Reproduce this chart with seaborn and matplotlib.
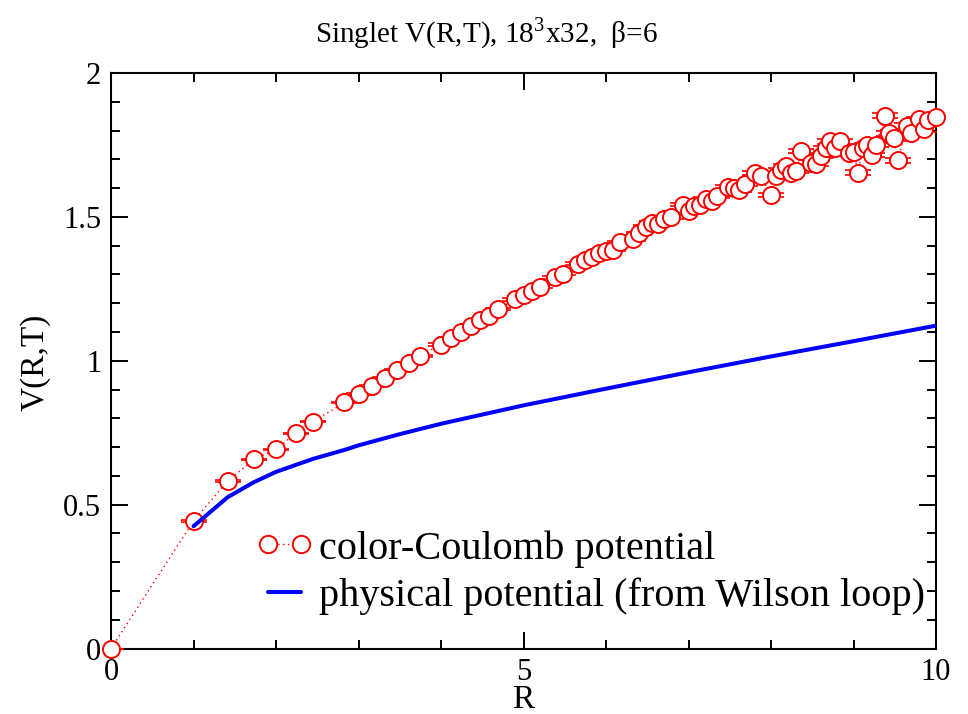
import matplotlib
matplotlib.use("Agg")
import matplotlib.pyplot as plt
import matplotlib.lines as mlines
from matplotlib.ticker import MultipleLocator, FixedLocator, FixedFormatter
import seaborn as sns
import pandas as pd

# color-Coulomb potential: R (lattice units), V and error
r_coul = [0.000, 1.000, 1.414, 1.732, 2.000, 2.236, 2.449, 2.828, 3.000, 3.162,
          3.317, 3.464, 3.606, 3.742, 4.000, 4.123, 4.243, 4.359, 4.472, 4.583,
          4.690, 4.899, 5.000, 5.099, 5.196, 5.385, 5.477, 5.657, 5.745, 5.831,
          5.916, 6.000, 6.083, 6.164, 6.325, 6.403, 6.481, 6.557, 6.633, 6.708,
          6.782, 6.928, 7.000, 7.071, 7.141, 7.211, 7.280, 7.348, 7.483, 7.550,
          7.616, 7.681, 7.810, 7.874, 8.000, 8.062, 8.124, 8.185, 8.246, 8.307,
          8.367, 8.485, 8.544, 8.602, 8.660, 8.718, 8.775, 8.832, 8.944, 9.000,
          9.055, 9.110, 9.165, 9.220, 9.274, 9.381, 9.434, 9.487, 9.539, 9.644,
          9.695, 9.798, 9.849, 9.899, 10.000]
v_coul = [0.000, 0.443, 0.582, 0.657, 0.692, 0.748, 0.788, 0.855, 0.885, 0.913,
          0.941, 0.969, 0.993, 1.017, 1.056, 1.079, 1.101, 1.120, 1.140, 1.157,
          1.179, 1.213, 1.228, 1.242, 1.258, 1.290, 1.303, 1.337, 1.351, 1.362,
          1.374, 1.383, 1.385, 1.411, 1.422, 1.443, 1.466, 1.480, 1.474, 1.492,
          1.499, 1.542, 1.522, 1.538, 1.540, 1.562, 1.556, 1.572, 1.604, 1.600,
          1.594, 1.615, 1.651, 1.642, 1.576, 1.642, 1.663, 1.677, 1.654, 1.658,
          1.729, 1.688, 1.684, 1.712, 1.738, 1.762, 1.738, 1.762, 1.721, 1.726,
          1.654, 1.738, 1.750, 1.715, 1.750, 1.851, 1.790, 1.773, 1.696, 1.816,
          1.793, 1.839, 1.804, 1.837, 1.846]
e_coul = [0.000, 0.002, 0.002, 0.002, 0.002, 0.002, 0.002, 0.003, 0.003, 0.003,
          0.003, 0.003, 0.003, 0.003, 0.004, 0.004, 0.004, 0.004, 0.004, 0.004,
          0.004, 0.004, 0.004, 0.004, 0.005, 0.005, 0.005, 0.005, 0.005, 0.005,
          0.005, 0.005, 0.005, 0.005, 0.005, 0.005, 0.005, 0.006, 0.006, 0.006,
          0.006, 0.006, 0.006, 0.006, 0.006, 0.006, 0.006, 0.006, 0.007, 0.007,
          0.007, 0.007, 0.007, 0.007, 0.007, 0.007, 0.007, 0.007, 0.007, 0.007,
          0.008, 0.008, 0.008, 0.008, 0.008, 0.008, 0.008, 0.008, 0.008, 0.008,
          0.008, 0.008, 0.008, 0.008, 0.008, 0.009, 0.009, 0.009, 0.009, 0.009,
          0.009, 0.009, 0.009, 0.009, 0.009]

# physical potential from Wilson loop
r_phys = [1.0, 1.414, 1.732, 2.0, 2.449, 2.828, 3.0, 3.5, 4.0, 4.5, 5.0, 6.0,
          7.0, 8.0, 9.0, 10.0]
v_phys = [0.425, 0.526, 0.578, 0.614, 0.659, 0.690, 0.706, 0.745, 0.781, 0.813,
          0.845, 0.903, 0.960, 1.015, 1.068, 1.122]

coul = pd.DataFrame({"R": r_coul, "V": v_coul})
phys = pd.DataFrame({"R": r_phys, "V": v_phys})

sns.set_style("ticks")
plt.rcParams["font.family"] = ["Liberation Serif", "DejaVu Serif"]
plt.rcParams["mathtext.fontset"] = "stix"
plt.rcParams["text.color"] = "black"

fig = plt.figure(figsize=(9.68, 7.14), dpi=100)
ax = fig.add_axes([0.1147, 0.0917, 0.8523, 0.8061])

# dotted connecting line, error bars, then open circles
sns.lineplot(data=coul, x="R", y="V", ax=ax, color="red", lw=1.0,
             linestyle=(0, (1, 2.5)), sort=False, estimator=None, zorder=2)
ax.errorbar(r_coul, v_coul, yerr=e_coul, fmt="none", ecolor="red",
            elinewidth=1.0, capsize=9.5, capthick=1.2, zorder=3)
sns.scatterplot(data=coul, x="R", y="V", ax=ax, marker="o", s=150,
                facecolor="white", edgecolor="red", linewidth=1.4, zorder=4,
                clip_on=False)
sns.lineplot(data=phys, x="R", y="V", ax=ax, color="#0000ff", lw=2.9,
             sort=False, estimator=None, zorder=5)

ax.set_xlim(0, 10)
ax.set_ylim(0, 2)
ax.xaxis.set_major_locator(FixedLocator([0, 5, 10]))
ax.xaxis.set_major_formatter(FixedFormatter(["0", "5", "10"]))
ax.xaxis.set_minor_locator(MultipleLocator(1))
ax.yaxis.set_major_locator(FixedLocator([0, 0.5, 1, 1.5, 2]))
ax.yaxis.set_major_formatter(FixedFormatter(["0", "0.5", "1", "1.5", "2"]))
ax.yaxis.set_minor_locator(MultipleLocator(0.1))
ax.tick_params(which="both", direction="in", top=True, right=True,
               width=1.4, colors="black", labelcolor="black", labelsize=22)
ax.tick_params(which="major", length=12, pad=7)
ax.tick_params(which="minor", length=6.5)
for sp in ax.spines.values():
    sp.set_visible(True)
    sp.set_linewidth(1.5)
    sp.set_color("black")

ax.set_xlabel("")
ax.set_ylabel("")
fig.text(523 / 968, 1 - 700 / 714, "R", fontsize=24, ha="center", va="center")
fig.text(35 / 968, 1 - 362 / 714, "V(R,T)", fontsize=24, ha="center",
         va="center", rotation=90)
fig.text(486 / 968, 1 - 34 / 714,
         r"Singlet V(R,T), 18$^{\mathregular{3}}$x32,  β=6",
         fontsize=21, ha="center", va="center")

h1 = mlines.Line2D([], [], color="red", lw=1.0, linestyle=(0, (1, 2.5)),
                   marker="o", markersize=12.5, markerfacecolor="white",
                   markeredgecolor="red", markeredgewidth=1.4)
h2 = mlines.Line2D([], [], color="#0000ff", lw=2.9)
ax.legend([h1, h2], ["color-Coulomb potential",
                     "physical potential (from Wilson loop)"],
          loc="upper left", bbox_to_anchor=(256 / 968, 1 - 530 / 714),
          bbox_transform=fig.transFigure, frameon=False, fontsize=29,
          numpoints=2, handlelength=1.42, handletextpad=0.15,
          labelspacing=0.25, borderpad=0, borderaxespad=0)

fig.savefig("out.png", dpi=100)
